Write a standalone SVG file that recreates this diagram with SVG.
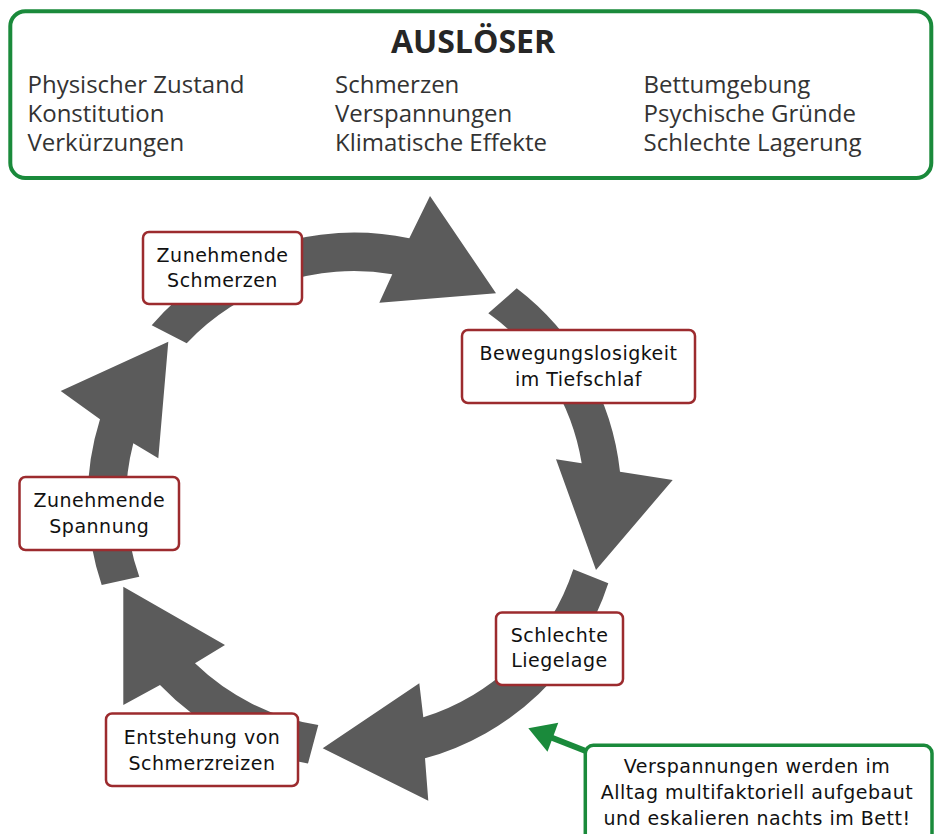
<svg xmlns="http://www.w3.org/2000/svg" width="937" height="834" viewBox="0 0 937 834">
<style>
.arrow{fill:#5b5b5b}
.node rect{fill:#fff;stroke:#9c2b2e;stroke-width:2.5}
.node text{font-family:"DejaVu Sans",Verdana,sans-serif;font-size:19px;letter-spacing:0.5px;fill:#111;text-anchor:middle}
.list{font-family:"Open Sans","DejaVu Sans",sans-serif;font-size:24px;fill:#333}
.title{font-family:"Open Sans","DejaVu Sans",sans-serif;font-size:32px;font-weight:bold;fill:#262626;text-anchor:middle}
.green{fill:none;stroke:#1a8a3b}
.note text{font-family:"DejaVu Sans",Verdana,sans-serif;font-size:19px;letter-spacing:0.5px;fill:#111;text-anchor:middle}
</style>
<rect width="937" height="834" fill="#fff"/>

<g id="ausloeser">
  <rect class="green" x="10.3" y="11.3" width="921" height="166.7" rx="15" stroke-width="4" fill="#fff"/>
  <text class="title" x="473" y="53">AUSLÖSER</text>
  <text class="list" x="27.5" y="93">Physischer Zustand</text>
  <text class="list" x="27.5" y="122">Konstitution</text>
  <text class="list" x="27.5" y="151">Verkürzungen</text>
  <text class="list" x="335" y="93">Schmerzen</text>
  <text class="list" x="335" y="122">Verspannungen</text>
  <text class="list" x="335" y="151">Klimatische Effekte</text>
  <text class="list" x="643.5" y="93">Bettumgebung</text>
  <text class="list" x="643.5" y="122">Psychische Gründe</text>
  <text class="list" x="643.5" y="151">Schlechte Lagerung</text>
</g>

<g id="connectors">
  <path class="arrow" d="M151.7,325.3 A267,267 0 0 1 409.3,238.3 L430,196 L496,293.3 L379.3,302.7 L392.3,274.3 A229.5,229.5 0 0 0 186.7,343.3 Z"/>
  <path class="arrow" d="M516.7,288.3 A267,267 0 0 1 620,471.7 L672.7,480 L596,570 L556,459.3 L581.7,463.3 A229.5,229.5 0 0 0 488.3,313.3 Z"/>
  <path class="arrow" d="M608.3,583.3 A267,267 0 0 1 425,758.3 L428.3,800.7 L322.7,748.3 L419.3,683.3 L423.3,717.3 A229.5,229.5 0 0 0 573.3,569.3 Z"/>
  <path class="arrow" d="M308,763.5 A267,267 0 0 1 160,685 L123.3,705 L123.3,586.7 L225,645 L195,663.3 A229.5,229.5 0 0 0 318.3,725 Z"/>
  <path class="arrow" d="M101.7,585 A267,267 0 0 1 100,419.3 L60.7,391 L168.3,341.7 L158.3,458.3 L133.3,443.3 A229.5,229.5 0 0 0 139.3,576.7 Z"/>
  <line class="green" x1="587" y1="751.5" x2="550" y2="737" stroke-width="6"/>
  <polygon fill="#1a8a3b" points="528.3,728.3 558.3,722.7 547.5,751.7"/>
</g>

<g id="n-schmerzen" class="node">
  <rect x="143" y="232" width="159" height="72" rx="6"/>
  <text x="222.5" y="261.7">Zunehmende</text>
  <text x="222.5" y="287.3">Schmerzen</text>
</g>
<g id="n-bewegung" class="node">
  <rect x="462" y="330" width="233" height="73" rx="6"/>
  <text x="578.5" y="360">Bewegungslosigkeit</text>
  <text x="578.5" y="386">im Tiefschlaf</text>
</g>
<g id="n-liegelage" class="node">
  <rect x="496" y="612.5" width="127" height="72.5" rx="6"/>
  <text x="559.5" y="642.3">Schlechte</text>
  <text x="559.5" y="667.3">Liegelage</text>
</g>
<g id="n-schmerzreize" class="node">
  <rect x="106" y="713.5" width="192" height="72.5" rx="6"/>
  <text x="202" y="744.3">Entstehung von</text>
  <text x="202" y="770">Schmerzreizen</text>
</g>
<g id="n-spannung" class="node">
  <rect x="19.5" y="477" width="159.5" height="73" rx="6"/>
  <text x="99.3" y="506.7">Zunehmende</text>
  <text x="99.3" y="533.3">Spannung</text>
</g>

<g id="note" class="note">
  <rect class="green" x="585.3" y="745.3" width="346.7" height="120" rx="8" stroke-width="3.5" fill="#fff"/>
  <text x="757" y="773.3">Verspannungen werden im</text>
  <text x="757" y="799.3">Alltag multifaktoriell aufgebaut</text>
  <text x="757" y="825.3">und eskalieren nachts im Bett!</text>
</g>
</svg>
